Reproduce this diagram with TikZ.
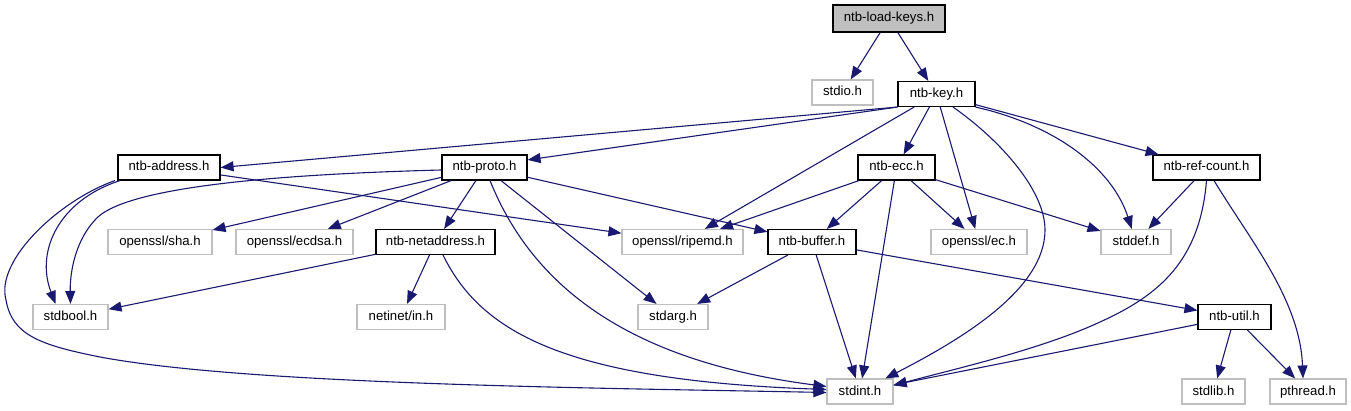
\documentclass[tikz,border=0pt]{standalone}
\usepackage{fontspec}
\setmainfont{Liberation Sans}
\usetikzlibrary{arrows.meta}
\definecolor{midblue}{RGB}{25,25,112}
\definecolor{greyseventyfive}{RGB}{191,191,191}
\tikzset{
  box/.style={draw=black, fill=white, line width=1.1pt, inner sep=0pt, minimum height=25pt,
    font=\fontsize{13.2pt}{15pt}\selectfont, text height=9.5pt, text depth=2.5pt},
  sysbox/.style={box, draw=greyseventyfive},
  rootbox/.style={box, fill=greyseventyfive, minimum height=27pt},
  edge/.style={draw=midblue, line width=1.1pt, -{Triangle[length=13pt,width=10pt]}, color=midblue}
}
\begin{document}
\begin{tikzpicture}[x=1pt,y=-1pt]
\useasboundingbox (0,0) rectangle (1351,411);
% nodes
\node[rootbox, minimum width=112pt] (loadkeys) at (889,18.5) {ntb-load-keys.h};
\node[sysbox, minimum width=61pt] (stdio) at (842.5,92.5) {stdio.h};
\node[box, minimum width=77pt] (key) at (936.5,94) {ntb-key.h};
\node[box, minimum width=102pt] (address) at (169,167.5) {ntb-address.h};
\node[box, minimum width=85pt] (proto) at (484.5,167.5) {ntb-proto.h};
\node[box, minimum width=77pt] (ecc) at (896.5,167.5) {ntb-ecc.h};
\node[box, minimum width=107pt] (refcount) at (1206.5,167.5) {ntb-ref-count.h};
\node[sysbox, minimum width=104pt] (sha) at (160,242) {openssl/sha.h};
\node[sysbox, minimum width=117pt] (ecdsa) at (294.5,242) {openssl/ecdsa.h};
\node[box, minimum width=119pt] (netaddress) at (435.5,242) {ntb-netaddress.h};
\node[sysbox, minimum width=121pt] (ripemd) at (682.5,242) {openssl/ripemd.h};
\node[box, minimum width=88pt] (buffer) at (812,242) {ntb-buffer.h};
\node[sysbox, minimum width=96pt] (ec) at (979,242) {openssl/ec.h};
\node[sysbox, minimum width=70pt] (stddef) at (1136,242) {stddef.h};
\node[sysbox, minimum width=75pt] (stdbool) at (70.5,317) {stdbool.h};
\node[sysbox, minimum width=88pt] (netinet) at (401,317) {netinet/in.h};
\node[sysbox, minimum width=70pt] (stdarg) at (673,317) {stdarg.h};
\node[box, minimum width=73pt] (util) at (1234.5,317) {ntb-util.h};
\node[sysbox, minimum width=66pt] (stdint) at (860,391.5) {stdint.h};
\node[sysbox, minimum width=63pt] (stdlib) at (1213.5,391.5) {stdlib.h};
\node[sysbox, minimum width=76pt] (pthread) at (1308,391.5) {pthread.h};
% edges
\draw[edge] (loadkeys) -- (stdio);
\draw[edge] (loadkeys) -- (key);
\draw[edge] (key.south west) -- (address.east);
\draw[edge] (key.south west) -- (proto.10);
\draw[edge] (key) -- (ripemd);
\draw[edge] (key) -- (ecc);
\draw[edge] (key) -- (ec);
\draw[edge] ([xshift=16.5pt]key.south) .. controls (1000,140) and (1045,190) .. (1045,230)
   .. controls (1045,290) and (960,340) .. (stdint);
\draw[edge] (key.south east) .. controls (1055,125) and (1112,168) .. (stddef);
\draw[edge] (key) -- (refcount);
\draw[edge] ([xshift=-49pt]address.south) .. controls (60,200) and (35,250) .. ([xshift=-15pt]stdbool.north);
\draw[edge] ([xshift=-54pt]address.south) .. controls (60,200) and (-5,260) .. (6,300)
   .. controls (12,335) and (40,345) .. (100,357)
   .. controls (250,385) and (600,388) .. ([yshift=-1pt]stdint.west);
\draw[edge] (address) -- (ripemd);
\draw[edge] ([yshift=-2.5pt]proto.west) .. controls (250,175) and (120,190) .. (95,220)
   .. controls (72,245) and (70,280) .. (stdbool.north);
\draw[edge] (proto) -- (sha);
\draw[edge] (proto) -- (ecdsa);
\draw[edge] (proto) -- (netaddress);
\draw[edge] ([xshift=5.5pt]proto.south) .. controls (530,280) and (620,360) .. ([yshift=5pt]stdint.west);
\draw[edge] (proto) -- (stdarg);
\draw[edge] (proto) -- (buffer);
\draw[edge] (ecc) -- (ripemd);
\draw[edge] (ecc) -- (buffer);
\draw[edge] (ecc) -- (stdint);
\draw[edge] (ecc) -- (ec);
\draw[edge] (ecc) -- (stddef);
\draw[edge] (buffer) -- (stdarg);
\draw[edge] (buffer) -- (stdint);
\draw[edge] (buffer) -- (util);
\draw[edge] (netaddress) -- (stdbool);
\draw[edge] (netaddress) -- (netinet);
\draw[edge] ([xshift=7.5pt]netaddress.south) .. controls (480,330) and (560,380) .. ([yshift=2pt]stdint.west);
\draw[edge] (refcount) -- (stddef);
\draw[edge] (refcount.south) .. controls (1200,260) and (1160,295) .. (1100,322)
   .. controls (1040,350) and (950,370) .. ([yshift=6pt]stdint.east);
\draw[edge] ([xshift=7.5pt]refcount.south) .. controls (1250,240) and (1300,300) .. ([xshift=-5pt]pthread.north);
\draw[edge] (util) -- (stdint);
\draw[edge] (util) -- (stdlib);
\draw[edge] (util) -- (pthread);
\end{tikzpicture}
\end{document}
